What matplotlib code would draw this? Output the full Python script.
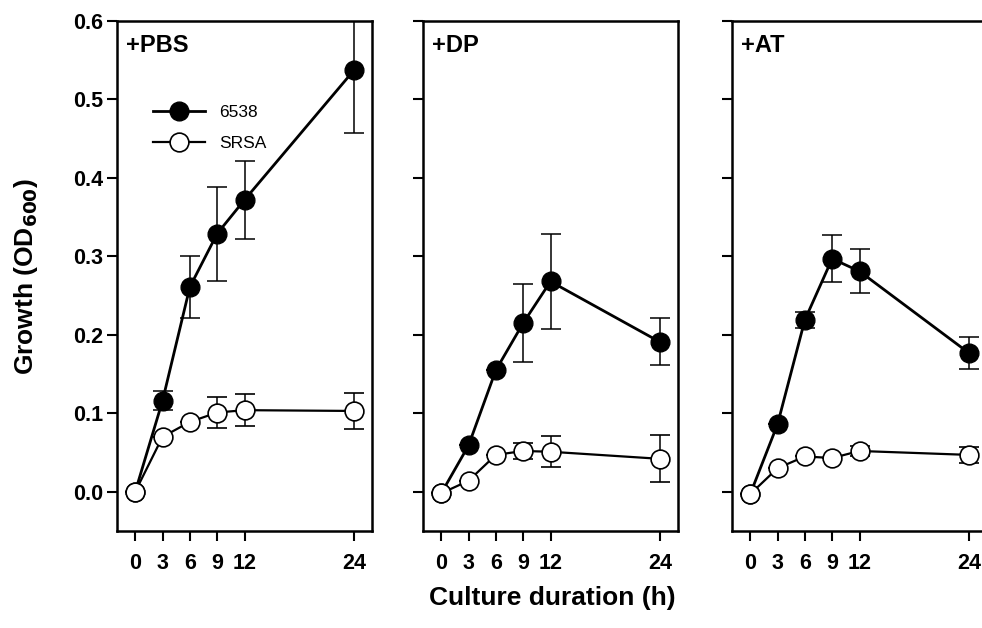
import matplotlib
matplotlib.use("Agg")
import matplotlib.pyplot as plt
from matplotlib.lines import Line2D

plt.rcParams['font.family'] = ['Liberation Sans', 'DejaVu Sans']

# time points (h)
hours = [0, 3, 6, 9, 12, 24]

panels = ["+PBS", "+DP", "+AT"]

# strain 6538 (filled)
wt_pbs = [0.0, 0.116, 0.261, 0.329, 0.372, 0.537]
wt_pbs_err = [0.0, 0.012, 0.04, 0.06, 0.05, 0.08]
wt_dp = [-0.002, 0.059, 0.155, 0.215, 0.268, 0.191]
wt_dp_err = [0.0, 0.0, 0.0, 0.05, 0.06, 0.03]
wt_at = [-0.003, 0.086, 0.219, 0.297, 0.281, 0.177]
wt_at_err = [0.0, 0.0, 0.01, 0.03, 0.028, 0.02]

# strain SRSA (open)
srsa_pbs = [0.0, 0.07, 0.089, 0.101, 0.104, 0.103]
srsa_pbs_err = [0.0, 0.0, 0.0, 0.02, 0.02, 0.023]
srsa_dp = [-0.002, 0.014, 0.047, 0.052, 0.051, 0.042]
srsa_dp_err = [0.0, 0.0, 0.0, 0.01, 0.02, 0.03]
srsa_at = [-0.003, 0.03, 0.045, 0.043, 0.052, 0.047]
srsa_at_err = [0.0, 0.0, 0.0, 0.0, 0.006, 0.01]

wt_all = [wt_pbs, wt_dp, wt_at]
wt_err_all = [wt_pbs_err, wt_dp_err, wt_at_err]
srsa_all = [srsa_pbs, srsa_dp, srsa_at]
srsa_err_all = [srsa_pbs_err, srsa_dp_err, srsa_at_err]

fig = plt.figure(figsize=(9.82, 6.28), dpi=100)

lefts = [117, 423, 732]
axes = []
for i in range(3):
    ax = fig.add_axes([lefts[i] / 982, 97 / 628, 255 / 982, 510 / 628])
    axes.append(ax)

    ax.errorbar(hours, wt_all[i], yerr=wt_err_all[i], color='black', lw=2.0,
                marker='o', ms=13.5, mfc='black', mec='black',
                capsize=7, elinewidth=1.1, capthick=1.1, zorder=2)
    ax.errorbar(hours, srsa_all[i], yerr=srsa_err_all[i], color='black', lw=1.6,
                marker='o', ms=13.5, mfc='white', mec='black', mew=1.2,
                capsize=7, elinewidth=1.1, capthick=1.1, zorder=3)

    ax.set_xlim(-2, 26)
    ax.set_ylim(-0.05, 0.6)
    ax.set_xticks(hours)
    ax.set_xticklabels([str(h) for h in hours], fontsize=15.5, fontweight='bold')
    ax.set_yticks([0.0, 0.1, 0.2, 0.3, 0.4, 0.5, 0.6])
    if i == 0:
        ax.set_yticklabels(['0.0', '0.1', '0.2', '0.3', '0.4', '0.5', '0.6'],
                           fontsize=15.5, fontweight='bold')
    else:
        ax.set_yticklabels([])
    ax.tick_params(direction='out', length=7, width=1.5)
    ax.tick_params(axis='x', pad=9)
    ax.tick_params(axis='y', pad=3)
    for s in ax.spines.values():
        s.set_linewidth(1.8)
    ax.text(0.035, 0.975, panels[i], transform=ax.transAxes, ha='left', va='top',
            fontsize=17, fontweight='bold')

# legend without error caps
h1 = Line2D([], [], color='black', lw=2.0, marker='o', ms=13.5, mfc='black', mec='black')
h2 = Line2D([], [], color='black', lw=1.6, marker='o', ms=13.5, mfc='white', mec='black', mew=1.2)
axes[0].legend([h1, h2], ['6538', 'SRSA'], loc='center left', bbox_to_anchor=(0.141, 0.79),
               frameon=False, fontsize=12.5, handlelength=3.0, borderpad=0,
               borderaxespad=0, handletextpad=0.8, labelspacing=0.9)

fig.text(26 / 982, 0.56, 'Growth (OD$_{\\mathbf{600}}$)', rotation=90, ha='center', va='center',
         fontsize=19, fontweight='bold')
fig.text(552 / 982, 0.047, 'Culture duration (h)', ha='center', va='center',
         fontsize=19, fontweight='bold')

fig.savefig('out.png', dpi=100)
